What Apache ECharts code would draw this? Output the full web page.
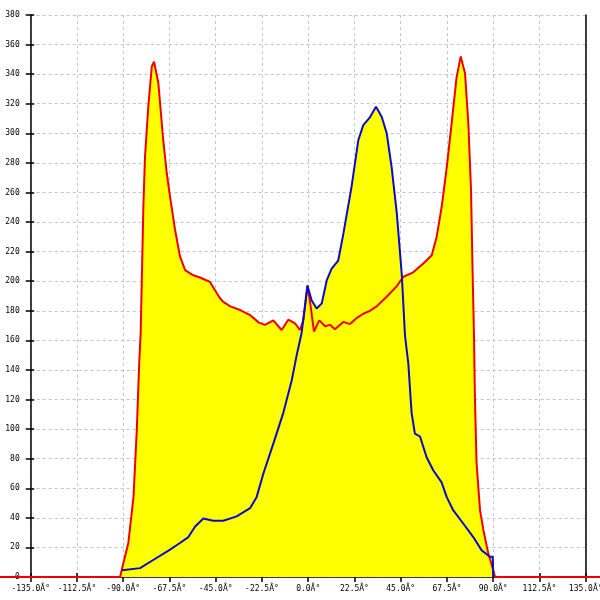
<!DOCTYPE html>
<html>
<head>
<meta charset="utf-8">
<script src="https://cdn.jsdelivr.net/npm/echarts@6/dist/echarts.min.js"></script>
<style>html,body{margin:0;padding:0;background:#fff}#c{width:600px;height:600px}</style>
</head>
<body>
<div id="c"></div>
<script>
const xTicks = { min: -135, max: 135, step: 22.5 };
const yTicks = { min: 0, max: 380, step: 20 };
const degSuffix = 'Â°';

const redX = [-150,-91.5,-90,-87.5,-85,-83.4,-82.2,-81.5,-80.2,-79.4,-77.8,-76.1,-75,-72.9,-70.5,-68.8,-67.2,-64.8,-62.4,-59.9,-55.9,-52.6,-50.2,-47.8,-44.5,-42.9,-41.3,-37.9,-33.1,-28.2,-24,-21,-17,-12.9,-9.7,-6.4,-4,-2.4,-0.3,1.2,2.8,5.4,8.2,10.6,13,17.1,20.3,23.5,26.8,30,33.3,35.5,38.2,43,46.3,51.1,56,60.1,62.5,64.9,67.4,69.8,72.2,74.2,76.3,77.9,79.2,80,80.7,81.1,81.9,83.6,85.2,87.6,90,90.9,150];
const redY = [0,0,9,23,54,99,145,165,250,284,318,345,348.5,334,295,273,257,235,217,207.5,204,202.5,201,199.5,192,188.5,186,183,180.5,177,172,170.5,173.5,167,174,171.5,167,173.5,197,183,166,173.5,169.5,170.5,167.5,172.5,171,175,178,180,183,186,189.5,196.5,203,206,212,217.5,230,250,277,307,338,352,340.5,307,262,205,160,122,77,45,32,16,4.7,0,0];

const blueX = [-90.5,-81.8,-75.4,-67.2,-62.4,-58.3,-55.1,-51,-46.2,-41.3,-34.8,-28.3,-25.1,-21.8,-17,-12.1,-8,-5.6,-3.2,-1.6,-0.4,1.7,4.1,6.6,9,11.4,14.6,17.1,21.1,24.4,26.8,30.1,33,35.8,38.2,40.6,43.1,45.5,47.1,48.7,50.3,51.9,54.4,57.6,60.9,64.9,67.4,70.6,75.5,80.3,84.4,88.4,89.8,90];
const blueY = [4.5,6,11.5,18.5,23,27,34,39.5,38,38,41,46.5,54,70,90,111,133,150,165,183,197,187,181.5,185,200.5,208.5,214,232,264,295.5,305.5,311,318,311,300,277,246,205,163,144.5,111,97,95,81,72,64,54,45,36,27,18,13.7,13.7,0];

const redData = redX.map((x, i) => [x, redY[i]]);
const blueData = blueX.map((x, i) => [x, blueY[i]]);

// layout
const W = 600, gLeft = 30.7, gRight = 14.3, gTop = 15, gBottom = 23;
const pxPerUnit = (W - gLeft - gRight) / (xTicks.max - xTicks.min);
const fullMin = xTicks.min - gLeft / pxPerUnit;
const fullMax = xTicks.max + gRight / pxPerUnit;

const chart = echarts.init(document.getElementById('c'));
const labelFont = { fontFamily: 'DejaVu Sans Mono', fontSize: 8, color: '#000' };
const gridLine = { show: true, lineStyle: { color: '#c4c4c4', type: [3, 3], width: 1 } };
const blackLine = { color: '#000', width: 1.5 };

chart.setOption({
  animation: false,
  backgroundColor: '#fff',
  grid: [
    { left: gLeft, right: gRight, top: gTop, bottom: gBottom, containLabel: false, outerBoundsMode: 'none' },
    { left: 0, right: 0, top: gTop, bottom: gBottom, containLabel: false, outerBoundsMode: 'none' }
  ],
  xAxis: [{
    gridIndex: 0, type: 'value', position: 'bottom', min: xTicks.min, max: xTicks.max, interval: xTicks.step,
    axisLine: { show: true, onZero: false, lineStyle: blackLine },
    axisTick: { show: true, length: 5, lineStyle: blackLine },
    axisLabel: Object.assign({ margin: 8, formatter: v => v.toFixed(1) + degSuffix, showMinLabel: true, showMaxLabel: true, hideOverlap: false }, labelFont),
    splitLine: gridLine
  }, {
    gridIndex: 1, type: 'value', min: fullMin, max: fullMax, show: false
  }, {
    gridIndex: 0, type: 'value', position: 'bottom', offset: 0, min: xTicks.min, max: xTicks.max, interval: xTicks.step,
    axisLine: { show: false, onZero: false },
    axisTick: { show: true, inside: true, length: 4, lineStyle: blackLine },
    axisLabel: { show: false }, splitLine: { show: false }
  }],
  yAxis: [{
    gridIndex: 0, type: 'value', min: yTicks.min, max: yTicks.max, interval: yTicks.step,
    axisLine: { show: true, onZero: false, lineStyle: blackLine },
    axisTick: { show: true, length: 5, lineStyle: blackLine },
    axisLabel: Object.assign({ margin: 11 }, labelFont),
    splitLine: gridLine
  }, {
    gridIndex: 0, type: 'value', min: yTicks.min, max: yTicks.max, interval: yTicks.step, position: 'right',
    axisLine: { show: true, onZero: false, lineStyle: blackLine },
    axisTick: { show: false }, axisLabel: { show: false }, splitLine: { show: false }
  }, {
    gridIndex: 1, type: 'value', min: yTicks.min, max: yTicks.max, show: false
  }, {
    gridIndex: 0, type: 'value', position: 'left', offset: 0, min: yTicks.min, max: yTicks.max, interval: yTicks.step,
    axisLine: { show: false, onZero: false },
    axisTick: { show: true, inside: true, length: 3.5, lineStyle: blackLine },
    axisLabel: { show: false }, splitLine: { show: false }
  }],
  series: [
    { type: 'line', xAxisIndex: 1, yAxisIndex: 2, data: redData, showSymbol: false, z: 2,
      lineStyle: { width: 0, opacity: 0 }, areaStyle: { color: '#ffff00', opacity: 1 } },
    { type: 'line', xAxisIndex: 1, yAxisIndex: 2, data: blueData, showSymbol: false, z: 2,
      lineStyle: { width: 0, opacity: 0 }, areaStyle: { color: '#ffff00', opacity: 1 } },
    { type: 'line', xAxisIndex: 1, yAxisIndex: 2, data: redData, showSymbol: false, z: 3,
      lineStyle: { width: 2, color: '#ee0000' } },
    { type: 'line', xAxisIndex: 1, yAxisIndex: 2, data: blueData, showSymbol: false, z: 4,
      lineStyle: { width: 2, color: '#0a0acc' } }
  ]
});
</script>
</body>
</html>
